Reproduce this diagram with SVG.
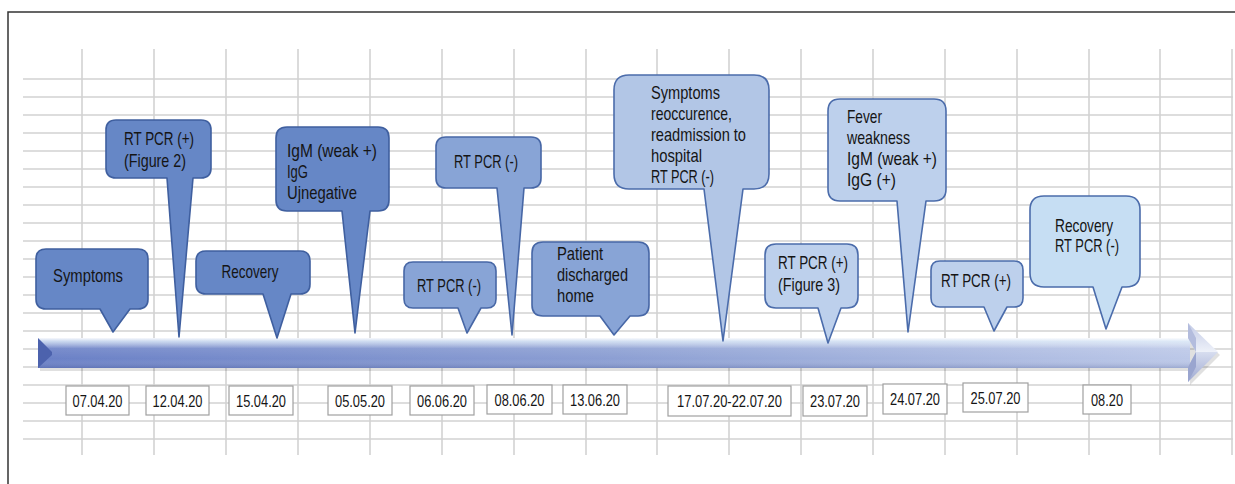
<svg xmlns="http://www.w3.org/2000/svg" width="1235" height="484" viewBox="0 0 1235 484">
<defs>
<style>
.grid line{stroke:#d2d2d2;stroke-width:1.6}
.co{stroke-width:1.6;stroke-linejoin:round}
.c1{fill:#6687c6;stroke:#3f5f9f}
.c2{fill:#88a4d6;stroke:#4767a6}
.c3{fill:#b2c6e6;stroke:#4b6cab}
.c4{fill:#bdd0ec;stroke:#4b6cab}
.c5{fill:#c6def3;stroke:#4b6cab}
text{font-family:"Liberation Sans",Arial,sans-serif;fill:#151515}
.t{font-size:18.5px}
.m{text-anchor:middle}
.d rect{fill:#fff;stroke:#a0a0a0;stroke-width:1.2}
.d text{font-size:16.5px;text-anchor:middle}
</style>
<linearGradient id="bodyH" x1="0" y1="0" x2="1" y2="0">
<stop offset="0" stop-color="#6a80c6"/>
<stop offset="0.5" stop-color="#8c9fd3"/>
<stop offset="1" stop-color="#bcc8e8"/>
</linearGradient>
<linearGradient id="bodyV" x1="0" y1="0" x2="0" y2="1">
<stop offset="0" stop-color="#ffffff" stop-opacity="0.95"/>
<stop offset="0.12" stop-color="#e6f2fb" stop-opacity="0.75"/>
<stop offset="0.35" stop-color="#ffffff" stop-opacity="0.1"/>
<stop offset="0.7" stop-color="#ffffff" stop-opacity="0"/>
<stop offset="1" stop-color="#3a4a88" stop-opacity="0.25"/>
</linearGradient>
<linearGradient id="headU" x1="0" y1="0" x2="0" y2="1">
<stop offset="0" stop-color="#c3cbe6"/>
<stop offset="1" stop-color="#eef1f9"/>
</linearGradient>
<linearGradient id="headL" x1="0" y1="0" x2="0" y2="1">
<stop offset="0" stop-color="#d7ddef"/>
<stop offset="1" stop-color="#9ea9d2"/>
</linearGradient>
</defs>
<rect x="0" y="0" width="1235" height="484" fill="#fff"/>
<path d="M8,484 V12 H1235" fill="none" stroke="#333" stroke-width="1.5"/>
<g class="grid">
<line x1="82" y1="49" x2="82" y2="455"/>
<line x1="154" y1="49" x2="154" y2="455"/>
<line x1="226" y1="49" x2="226" y2="455"/>
<line x1="298" y1="49" x2="298" y2="455"/>
<line x1="370" y1="49" x2="370" y2="455"/>
<line x1="442" y1="49" x2="442" y2="455"/>
<line x1="514" y1="49" x2="514" y2="455"/>
<line x1="586" y1="49" x2="586" y2="455"/>
<line x1="657" y1="49" x2="657" y2="455"/>
<line x1="729" y1="49" x2="729" y2="455"/>
<line x1="801" y1="49" x2="801" y2="455"/>
<line x1="873" y1="49" x2="873" y2="455"/>
<line x1="945" y1="49" x2="945" y2="455"/>
<line x1="1017" y1="49" x2="1017" y2="455"/>
<line x1="1089" y1="49" x2="1089" y2="455"/>
<line x1="1160" y1="49" x2="1160" y2="455"/>
<line x1="1232" y1="49" x2="1232" y2="455"/>
<line x1="23" y1="79" x2="1233" y2="79"/>
<line x1="23" y1="97" x2="1233" y2="97"/>
<line x1="23" y1="115" x2="1233" y2="115"/>
<line x1="23" y1="133" x2="1233" y2="133"/>
<line x1="23" y1="151" x2="1233" y2="151"/>
<line x1="23" y1="169" x2="1233" y2="169"/>
<line x1="23" y1="187" x2="1233" y2="187"/>
<line x1="23" y1="205" x2="1233" y2="205"/>
<line x1="23" y1="223" x2="1233" y2="223"/>
<line x1="23" y1="241" x2="1233" y2="241"/>
<line x1="23" y1="259" x2="1233" y2="259"/>
<line x1="23" y1="277" x2="1233" y2="277"/>
<line x1="23" y1="295" x2="1233" y2="295"/>
<line x1="23" y1="313" x2="1233" y2="313"/>
<line x1="23" y1="331" x2="1233" y2="331"/>
<line x1="23" y1="349" x2="1233" y2="349"/>
<line x1="23" y1="367" x2="1233" y2="367"/>
<line x1="23" y1="385" x2="1233" y2="385"/>
<line x1="23" y1="403" x2="1233" y2="403"/>
<line x1="23" y1="421" x2="1233" y2="421"/>
<line x1="23" y1="439" x2="1233" y2="439"/>
</g>
<g id="connectors">
<g id="timeline">
<rect x="40" y="341" width="1150" height="30" fill="#000" opacity="0.12"/>
<rect x="38" y="338" width="1152" height="30" fill="url(#bodyH)"/>
<rect x="38" y="338" width="1152" height="30" fill="url(#bodyV)"/>
<polygon points="38,338 52,352 52,355 38,368" fill="#4c62ad"/>
<polygon points="1188,323 1218,352 1188,382" fill="#000" opacity="0.12" transform="translate(2,3)"/>
<polygon points="1188,323 1218,352 1196,352 1188,338" fill="url(#headU)"/>
<polygon points="1188,382 1218,352 1196,352 1188,367" fill="url(#headL)"/>
<polygon points="1188,323 1196,338 1196,352 1188,338" fill="#b3bcdd"/>
<polygon points="1188,382 1196,367 1196,352 1188,367" fill="#9aa5cf"/>
</g>
</g>
<g id="n-symptoms">
<path class="co c1" d="M46,249 H138 Q148,249 148,259 V299 Q148,309 138,309 H130 L113,332 L100,309 H46 Q36,309 36,299 V259 Q36,249 46,249 Z"/>
<text class="t m" x="88" y="282" textLength="70" lengthAdjust="spacingAndGlyphs">Symptoms</text>
</g>
<g id="n-rtpcr-fig2">
<path class="co c1" d="M116,120 H201 Q211,120 211,130 V168 Q211,178 201,178 H193 L179,337 L167,178 H116 Q106,178 106,168 V130 Q106,120 116,120 Z"/>
<text class="t" x="124" y="145" textLength="70" lengthAdjust="spacingAndGlyphs">RT PCR (+)</text>
<text class="t" x="124" y="167" textLength="62" lengthAdjust="spacingAndGlyphs">(Figure 2)</text>
</g>
<g id="n-recovery1">
<path class="co c1" d="M206,251 H300 Q310,251 310,261 V284 Q310,294 300,294 H291 L277,338 L263,294 H206 Q196,294 196,284 V261 Q196,251 206,251 Z"/>
<text class="t m" x="250" y="278" textLength="57" lengthAdjust="spacingAndGlyphs">Recovery</text>
</g>
<g id="n-igm">
<path class="co c1" d="M287,127 H378 Q389,127 389,138 V200 Q389,211 378,211 H370 L355,333 L342,211 H287 Q276,211 276,200 V138 Q276,127 287,127 Z"/>
<text class="t" x="287" y="157" textLength="90" lengthAdjust="spacingAndGlyphs">IgM (weak +)</text>
<text class="t" x="287" y="178" textLength="21" lengthAdjust="spacingAndGlyphs">IgG</text>
<text class="t" x="287" y="199" textLength="70" lengthAdjust="spacingAndGlyphs">Ujnegative</text>
</g>
<g id="n-rtpcr-0606">
<path class="co c2" d="M413,262 H487 Q496,262 496,271 V299 Q496,308 487,308 H481 L467,333 L458,308 H413 Q404,308 404,299 V271 Q404,262 413,262 Z"/>
<text class="t m" x="449" y="292" textLength="64" lengthAdjust="spacingAndGlyphs">RT PCR (-)</text>
</g>
<g id="n-rtpcr-0806">
<path class="co c2" d="M446,137 H531 Q541,137 541,147 V178 Q541,188 531,188 H524 L512,335 L497,188 H446 Q436,188 436,178 V147 Q436,137 446,137 Z"/>
<text class="t m" x="486" y="168" textLength="64" lengthAdjust="spacingAndGlyphs">RT PCR (-)</text>
</g>
<g id="n-discharged">
<path class="co c2" d="M543,242 H638 Q649,242 649,253 V305 Q649,316 638,316 H630 L614,335 L600,316 H543 Q532,316 532,305 V253 Q532,242 543,242 Z"/>
<text class="t" x="557" y="260" textLength="46" lengthAdjust="spacingAndGlyphs">Patient</text>
<text class="t" x="557" y="281" textLength="71" lengthAdjust="spacingAndGlyphs">discharged</text>
<text class="t" x="557" y="302" textLength="37" lengthAdjust="spacingAndGlyphs">home</text>
</g>
<g id="n-reoccurence">
<path class="co c3" d="M629,75 H754 Q769,75 769,90 V174 Q769,189 754,189 H743 L723,341 L704,189 H629 Q614,189 614,174 V90 Q614,75 629,75 Z"/>
<text class="t" x="651" y="99" textLength="69" lengthAdjust="spacingAndGlyphs">Symptoms</text>
<text class="t" x="651" y="120" textLength="81" lengthAdjust="spacingAndGlyphs">reoccurence,</text>
<text class="t" x="651" y="141" textLength="95" lengthAdjust="spacingAndGlyphs">readmission to</text>
<text class="t" x="651" y="162" textLength="51" lengthAdjust="spacingAndGlyphs">hospital</text>
<text class="t" x="651" y="183" textLength="63" lengthAdjust="spacingAndGlyphs">RT PCR (-)</text>
</g>
<g id="n-rtpcr-fig3">
<path class="co c4" d="M776,244 H847 Q858,244 858,255 V297 Q858,308 847,308 H841 L828,343 L818,308 H776 Q765,308 765,297 V255 Q765,244 776,244 Z"/>
<text class="t" x="778" y="269" textLength="70" lengthAdjust="spacingAndGlyphs">RT PCR (+)</text>
<text class="t" x="778" y="291" textLength="62" lengthAdjust="spacingAndGlyphs">(Figure 3)</text>
</g>
<g id="n-fever">
<path class="co c4" d="M840,99 H934 Q946,99 946,111 V189 Q946,201 934,201 H926 L908,332 L897,201 H840 Q828,201 828,189 V111 Q828,99 840,99 Z"/>
<text class="t" x="847" y="123" textLength="35" lengthAdjust="spacingAndGlyphs">Fever</text>
<text class="t" x="847" y="144" textLength="63" lengthAdjust="spacingAndGlyphs">weakness</text>
<text class="t" x="847" y="165" textLength="90" lengthAdjust="spacingAndGlyphs">IgM (weak +)</text>
<text class="t" x="847" y="186" textLength="49" lengthAdjust="spacingAndGlyphs">IgG (+)</text>
</g>
<g id="n-rtpcr-2507">
<path class="co c4" d="M940,261 H1014 Q1023,261 1023,270 V298 Q1023,307 1014,307 H1007 L994,331 L984,307 H940 Q931,307 931,298 V270 Q931,261 940,261 Z"/>
<text class="t m" x="976" y="287" textLength="70" lengthAdjust="spacingAndGlyphs">RT PCR (+)</text>
</g>
<g id="n-recovery2">
<path class="co c5" d="M1044,196 H1126 Q1140,196 1140,210 V273 Q1140,287 1126,287 H1122 L1106,329 L1093,287 H1044 Q1030,287 1030,273 V210 Q1030,196 1044,196 Z"/>
<text class="t" x="1055" y="232" textLength="58" lengthAdjust="spacingAndGlyphs">Recovery</text>
<text class="t" x="1055" y="252" textLength="64" lengthAdjust="spacingAndGlyphs">RT PCR (-)</text>
</g>
<g id="n-dates" class="d">
<g id="d1"><rect x="66" y="386" width="63" height="29"/><text x="97.5" y="407" textLength="50" lengthAdjust="spacingAndGlyphs">07.04.20</text></g>
<g id="d2"><rect x="146" y="386" width="63" height="29"/><text x="177.5" y="407" textLength="50" lengthAdjust="spacingAndGlyphs">12.04.20</text></g>
<g id="d3"><rect x="229" y="386" width="64" height="29"/><text x="261" y="407" textLength="50" lengthAdjust="spacingAndGlyphs">15.04.20</text></g>
<g id="d4"><rect x="328" y="386" width="64" height="29"/><text x="360" y="407" textLength="50" lengthAdjust="spacingAndGlyphs">05.05.20</text></g>
<g id="d5"><rect x="410" y="386" width="64" height="29"/><text x="442" y="407" textLength="50" lengthAdjust="spacingAndGlyphs">06.06.20</text></g>
<g id="d6"><rect x="487" y="385" width="65" height="29"/><text x="519.5" y="406" textLength="50" lengthAdjust="spacingAndGlyphs">08.06.20</text></g>
<g id="d7"><rect x="563" y="385" width="64" height="29"/><text x="595" y="406" textLength="50" lengthAdjust="spacingAndGlyphs">13.06.20</text></g>
<g id="d8"><rect x="668" y="386" width="123" height="30"/><text x="729.5" y="407" textLength="105" lengthAdjust="spacingAndGlyphs">17.07.20-22.07.20</text></g>
<g id="d9"><rect x="803" y="386" width="64" height="30"/><text x="835" y="407" textLength="50" lengthAdjust="spacingAndGlyphs">23.07.20</text></g>
<g id="d10"><rect x="883" y="384" width="64" height="30"/><text x="915" y="405" textLength="50" lengthAdjust="spacingAndGlyphs">24.07.20</text></g>
<g id="d11"><rect x="963" y="383" width="65" height="29"/><text x="995.5" y="404" textLength="50" lengthAdjust="spacingAndGlyphs">25.07.20</text></g>
<g id="d12"><rect x="1083" y="385" width="48" height="29"/><text x="1107" y="406" textLength="32" lengthAdjust="spacingAndGlyphs">08.20</text></g>
</g>
</svg>
